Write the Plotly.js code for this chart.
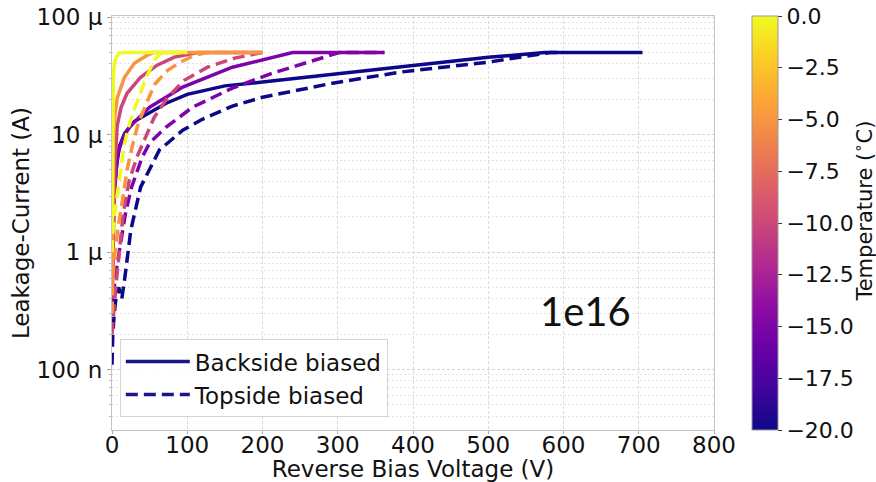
<!DOCTYPE html>
<html>
<head>
<meta charset="utf-8">
<script src="https://cdn.plot.ly/plotly-3.0.1.min.js"></script>
<style>html,body{margin:0;padding:0;background:#fff;}#chart{width:876px;height:482px;}</style>
</head>
<body>
<div id="chart"></div>
<script>
// Temperatures (°C) of the measured curves
const temps = [-20, -15, -10, -5, 0];
const tempColors = ['#0d0887', '#7e03a8', '#cc4778', '#f89540', '#f0f921'];

// Backside biased (solid) — voltage (V) and current (µA)
const bs_m20_V = [0, 1, 3, 6, 10, 17, 30, 50, 72, 100, 150, 200, 300, 400, 500, 575, 705];
const bs_m20_I = [0.3, 1.2, 3, 5.5, 8, 10.3, 13, 15.5, 18.5, 22, 26, 28, 33, 39, 45.5, 50, 50];
const bs_m15_V = [0, 1, 3.3, 8, 15, 23, 50, 94, 160, 200, 240, 362];
const bs_m15_I = [0.3, 1.2, 3.6, 7, 9.5, 11.6, 17.1, 25.4, 37.5, 43, 50, 50];
const bs_m10_V = [0, 1, 2, 4, 7, 12, 20, 38, 60, 83, 114, 200];
const bs_m10_I = [0.4, 1.0, 2.5, 6, 12, 17, 22.5, 30.8, 39, 45.7, 50, 50];
const bs_m5_V = [0, 0.5, 1, 2, 4, 7.3, 16.6, 30, 47, 55, 200];
const bs_m5_I = [0.5, 1.5, 5, 10, 15, 20.8, 30.8, 40.7, 47.5, 50, 50];
const bs_0_V = [0, 0.3, 0.6, 1, 2, 3.3, 6, 10, 16, 100];
const bs_0_I = [1.5, 4, 12, 22, 33, 41, 46, 49.4, 50, 50];

// Topside biased (dashed) — voltage (V) and current (µA)
const ts_m20_V = [0, 1, 3, 6, 9, 13, 17, 21, 25, 38, 63, 94, 120, 160, 200, 293, 382, 500, 582, 600];
const ts_m20_I = [0.11, 0.2, 0.3, 0.45, 0.5, 0.4, 0.6, 1.04, 1.54, 3.57, 7.4, 10.9, 13.5, 17.5, 20.8, 27.4, 34, 41.4, 50, 50];
const ts_m15_V = [0, 1, 5, 10, 14, 18, 26, 40, 50, 72, 107, 160, 213, 276, 302, 362];
const ts_m15_I = [0.3, 0.39, 0.66, 1.04, 1.45, 2.15, 3.57, 6.4, 8.5, 11.6, 17.1, 24.9, 33.3, 44.8, 50, 50];
const ts_m10_V = [0, 1, 6, 10, 15, 23, 33, 43, 56, 74, 96, 127, 163, 200];
const ts_m10_I = [0.2, 0.25, 0.58, 1, 2.15, 4.1, 6.4, 9, 14, 20.8, 29, 37.5, 44.8, 50];
const ts_m5_V = [0, 1, 4, 8, 14, 20, 27, 35, 45, 57, 74, 91, 110, 127, 200];
const ts_m5_I = [0.3, 0.6, 1, 1.6, 2.8, 5, 8, 12.5, 18, 27, 35.3, 41.4, 47.5, 50, 50];
const ts_0_V = [0, 1, 4, 8, 12, 16, 21, 28, 36, 45, 56, 65, 70, 100];
const ts_0_I = [1, 1.45, 2.2, 3.5, 5.5, 8, 11, 15.5, 21, 30, 43, 49.4, 50, 50];

const backside = [[bs_m20_V, bs_m20_I], [bs_m15_V, bs_m15_I], [bs_m10_V, bs_m10_I], [bs_m5_V, bs_m5_I], [bs_0_V, bs_0_I]];
const topside = [[ts_m20_V, ts_m20_I], [ts_m15_V, ts_m15_I], [ts_m10_V, ts_m10_I], [ts_m5_V, ts_m5_I], [ts_0_V, ts_0_I]];

// Axis ticks
const xTicks = [0, 100, 200, 300, 400, 500, 600, 700, 800];
const yTickVals = [1e-7, 1e-6, 1e-5, 1e-4];
const yTickText = ['100 n', '1 µ', '10 µ', '100 µ'];
const cbTickVals = [-20, -17.5, -15, -12.5, -10, -7.5, -5, -2.5, 0];
const cbTickText = ['\u221220.0', '\u221217.5', '\u221215.0', '\u221212.5', '\u221210.0', '\u22127.5', '\u22125.0', '\u22122.5', '0.0'];

const plasma = [
  [0.0, '#0d0887'], [0.1, '#41049d'], [0.2, '#6a00a8'], [0.3, '#8f0da4'],
  [0.4, '#b12a90'], [0.5, '#cc4778'], [0.6, '#e16462'], [0.7, '#f2844b'],
  [0.8, '#fca636'], [0.9, '#fcce25'], [1.0, '#f0f921']
];

const FS = 23;
const txt = {family: 'DejaVu Sans', size: FS, color: '#111'};
const uA = v => v.map(x => x * 1e-6);
const traces = [];
for (let i = 0; i < temps.length; i++) {
  traces.push({
    x: backside[i][0], y: uA(backside[i][1]), type: 'scatter', mode: 'lines',
    line: {color: tempColors[i], width: 3.5}, showlegend: false, hoverinfo: 'skip'
  });
  traces.push({
    x: topside[i][0], y: uA(topside[i][1]), type: 'scatter', mode: 'lines',
    line: {color: tempColors[i], width: 3.5, dash: '12px,6px'}, showlegend: false, hoverinfo: 'skip'
  });
}
// legend entries
traces.push({x: [null], y: [null], type: 'scatter', mode: 'lines', name: 'Backside biased',
  line: {color: '#1a1689', width: 3.5}});
traces.push({x: [null], y: [null], type: 'scatter', mode: 'lines', name: 'Topside biased',
  line: {color: '#1a1689', width: 3.5, dash: '12px,6px'}});
// colorbar
traces.push({
  x: temps.map(() => null), y: temps.map(() => null), type: 'scatter', mode: 'markers',
  showlegend: false, hoverinfo: 'skip',
  marker: {
    color: temps, colorscale: plasma, cmin: -20, cmax: 0, showscale: true,
    colorbar: {
      x: 1.063, xanchor: 'left', xpad: 0, y: 0.5, yanchor: 'middle', len: 1, lenmode: 'fraction', ypad: 0,
      thickness: 26, outlinewidth: 1, outlinecolor: '#999',
      tickmode: 'array', tickvals: cbTickVals, ticktext: cbTickText,
      ticks: 'outside', ticklen: 4, tickcolor: '#333',
      tickfont: {family: 'DejaVu Sans', size: 22, color: '#111'}
    }
  }
});

const minorVals = [];
for (const d of [1e-8, 1e-7, 1e-6, 1e-5]) for (let k = 2; k <= 9; k++) minorVals.push(k * d);

const layout = {
  width: 876, height: 482,
  margin: {l: 112, r: 162, t: 16, b: 52, autoexpand: false},
  paper_bgcolor: '#fff', plot_bgcolor: '#fff',
  font: {family: 'DejaVu Sans', color: '#111'},
  xaxis: {
    range: [0, 800], tickmode: 'array', tickvals: xTicks, zeroline: false, automargin: false,
    showgrid: true, gridcolor: '#dcdcdc', griddash: '3px,2px', gridwidth: 1,
    showline: true, mirror: true, linecolor: '#c4c4c4', linewidth: 1,
    ticks: 'outside', ticklen: 3, tickcolor: '#aaa', ticklabelstandoff: -9,
    tickfont: txt,
    title: {text: 'Reverse Bias Voltage (V)', font: txt, standoff: 6}
  },
  yaxis: {
    type: 'log', range: [-7.515, -3.99], tickmode: 'array', tickvals: yTickVals, ticktext: yTickText,
    automargin: false,
    showgrid: true, gridcolor: '#d4d4d4', griddash: '3px,2px', gridwidth: 1,
    showline: true, mirror: true, linecolor: '#c4c4c4', linewidth: 1,
    ticks: 'outside', ticklen: 4, tickcolor: '#aaa',
    tickfont: txt,
    minor: {tickmode: 'array', tickvals: minorVals, showgrid: true, gridcolor: '#e4e4e4', griddash: '2px,2px',
      ticks: 'outside', ticklen: 2, tickcolor: '#bbb'},
    title: {text: 'Leakage-Current (A)', font: txt, standoff: 0}
  },
  legend: {
    x: 0.013, y: 0.031, xanchor: 'left', yanchor: 'bottom',
    bgcolor: 'rgba(255,255,255,0.9)', bordercolor: '#d4d4d4', borderwidth: 1,
    font: txt, tracegroupgap: 0, itemwidth: 64
  },
  annotations: [{
    text: '1e16', xref: 'paper', yref: 'paper', x: 0.786, y: 0.287, xanchor: 'center', yanchor: 'middle',
    showarrow: false, font: {family: 'Lato', size: 40, color: '#111'}
  }, {
    text: 'Temperature (<sup>\u2218</sup>C)', xref: 'paper', yref: 'paper', x: 1.2475, y: 0.53,
    xanchor: 'center', yanchor: 'middle', textangle: -90, showarrow: false, borderpad: 0,
    font: {family: 'DejaVu Sans', size: 21, color: '#111'}
  }]
};

Plotly.newPlot('chart', traces, layout, {displayModeBar: false, staticPlot: true});
</script>
</body>
</html>
